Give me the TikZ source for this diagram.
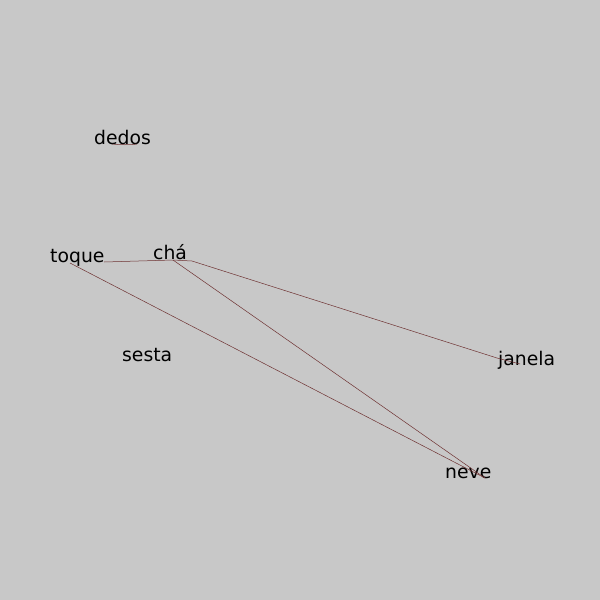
\documentclass[tikz,border=0pt]{standalone}
\usepackage{fontspec}
\setmainfont{DejaVu Sans}
\begin{document}
\begin{tikzpicture}[x=1pt,y=-1pt,
  word/.style={anchor=base west,inner sep=0pt,font=\fontsize{18.8}{21}\selectfont,text=black},
  link/.style={draw={rgb,255:red,110;green,50;blue,50},line width=0.5pt}]
\fill[color={rgb,255:red,200;green,200;blue,200}] (0,0) rectangle (600,600);
\useasboundingbox (0,0) rectangle (600,600);
% words
\node[word] (dedos) at (94,144) {dedos};
\node[word] (toque) at (50,262) {toque};
\node[word] (cha) at (153,259) {chá};
\node[word] (sesta) at (122,361) {sesta};
\node[word] (janela) at (498,365) {janela};
\node[word] (neve) at (445,478) {neve};
% attachment points of the links
\coordinate (dedosL) at (112,144);
\coordinate (dedosR) at (137,144);
\coordinate (toqueA) at (70,263);
\coordinate (toqueB) at (104,262);
\coordinate (chaA) at (173,260);
\coordinate (chaB) at (192,261);
\coordinate (janelaA) at (497,358);
\coordinate (janelaB) at (520,364);
\coordinate (neveA) at (485,478);
% links
\draw[link] (dedosL) .. controls (120,145) and (130,145) .. (dedosR);
\draw[link] (toqueB) -- (chaA);
\draw[link] (chaA) -- (chaB) -- (janelaA) -- (janelaB);
\draw[link] (chaA) -- (neveA);
\draw[link] (toqueA) -- (neveA);
\end{tikzpicture}
\end{document}
